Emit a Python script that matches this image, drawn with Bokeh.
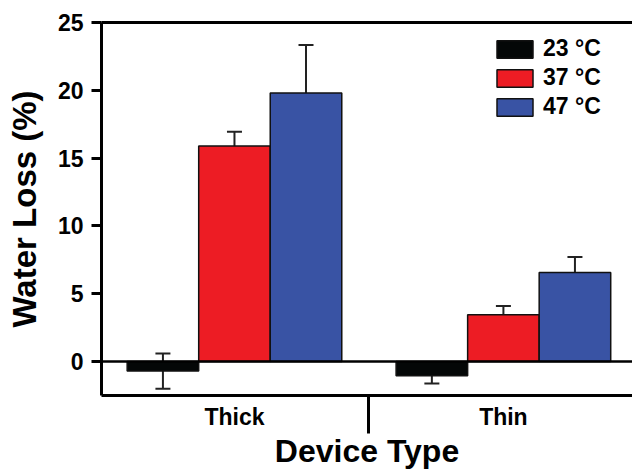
from bokeh.plotting import figure
from bokeh.models import (ColumnDataSource, Whisker, TeeHead, FixedTicker, LinearAxis,
                          Span, Range1d)
from bokeh.embed import file_html
from bokeh.resources import INLINE

# ---- data ----
categories = ["Thick", "Thin"]
group_pos = [1, 2]
temps = ["23 °C", "37 °C", "47 °C"]
loss_23 = [-0.7, -1.05]
err_23 = [1.3, 0.57]
loss_37 = [15.9, 3.46]
err_37 = [1.05, 0.64]
loss_47 = [19.8, 6.56]
err_47 = [3.55, 1.15]
colors = ["#040707", "#ED1C24", "#3953A4"]
y_ticks = [0, 5, 10, 15, 20, 25]

FONT = "Liberation Sans"
BAR_W = 0.266
offsets = [-BAR_W, 0.0, BAR_W]

p = figure(width=632, height=475, x_range=Range1d(0.5056, 2.48), y_range=Range1d(-2.5, 25),
           output_backend="svg", toolbar_location=None,
           min_border_left=101, min_border_right=0, min_border_top=22, min_border_bottom=80)
p.outline_line_color = None
p.grid.visible = False

series = [(loss_23, err_23), (loss_37, err_37), (loss_47, err_47)]
for (vals, errs), off, col, lab in zip(series, offsets, colors, temps):
    xs = [g + off for g in group_pos]
    src = ColumnDataSource(dict(x=xs, top=vals,
                                upper=[v + e for v, e in zip(vals, errs)],
                                lower=[v - e for v, e in zip(vals, errs)]))
    p.vbar(x="x", top="top", bottom=0, width=BAR_W, source=src, fill_color=col,
           line_color="#111111", line_width=1.5, legend_label=lab)
    w = Whisker(base="x", upper="upper", lower="lower", source=src, dimension="height",
                line_color="#222222", line_width=2,
                upper_head=TeeHead(size=15, line_color="#222222", line_width=2),
                lower_head=TeeHead(size=15, line_color="#222222", line_width=2))
    p.add_layout(w)

p.add_layout(Span(location=0, dimension="width", line_color="black", line_width=2.5))

xa = p.below[0]
ya = p.left[0]

# top border
top_axis = LinearAxis(ticker=FixedTicker(ticks=[]), major_label_text_alpha=0,
                      axis_line_width=3, major_tick_out=0, major_tick_in=0,
                      minor_tick_out=0, minor_tick_in=0)
p.add_layout(top_axis, "above")

# x axis
xa.ticker = FixedTicker(ticks=group_pos, minor_ticks=[1.5])
xa.major_label_overrides = {g: c for g, c in zip(group_pos, categories)}
xa.major_tick_out = 0
xa.major_tick_in = 0
xa.minor_tick_out = 38
xa.minor_tick_in = 0
xa.minor_tick_line_width = 3
xa.axis_line_width = 3
xa.major_label_text_font = FONT
xa.major_label_text_font_style = "bold"
xa.major_label_text_font_size = "23px"
xa.major_label_text_color = "black"
xa.major_label_standoff = -30
xa.axis_label = "Device Type"
xa.axis_label_text_font = FONT
xa.axis_label_text_font_style = "bold"
xa.axis_label_text_font_size = "32px"
xa.axis_label_text_color = "black"
xa.axis_label_standoff = 0

# y axis
ya.ticker = FixedTicker(ticks=y_ticks)
ya.major_tick_out = 10
ya.major_tick_in = 0
ya.minor_tick_out = 0
ya.minor_tick_in = 0
ya.axis_line_width = 3
ya.major_tick_line_width = 3
ya.major_label_text_font = FONT
ya.major_label_text_font_style = "bold"
ya.major_label_text_font_size = "23px"
ya.major_label_text_color = "black"
ya.major_label_standoff = 8
ya.axis_label = "Water Loss (%)"
ya.axis_label_text_font = FONT
ya.axis_label_text_font_style = "bold"
ya.axis_label_text_font_size = "33px"
ya.axis_label_text_color = "black"
ya.axis_label_standoff = 12

lg = p.legend[0]
lg.location = (391, 275)
lg.background_fill_alpha = 0
lg.border_line_alpha = 0
lg.padding = 0
lg.margin = 0
lg.spacing = 2
lg.glyph_width = 45
lg.glyph_height = 22
lg.label_standoff = 6
lg.label_height = 22
lg.label_text_font = FONT
lg.label_text_font_style = "bold"
lg.label_text_font_size = "23px"
lg.label_text_color = "black"

open("out.html", "w").write(file_html(p, INLINE))
